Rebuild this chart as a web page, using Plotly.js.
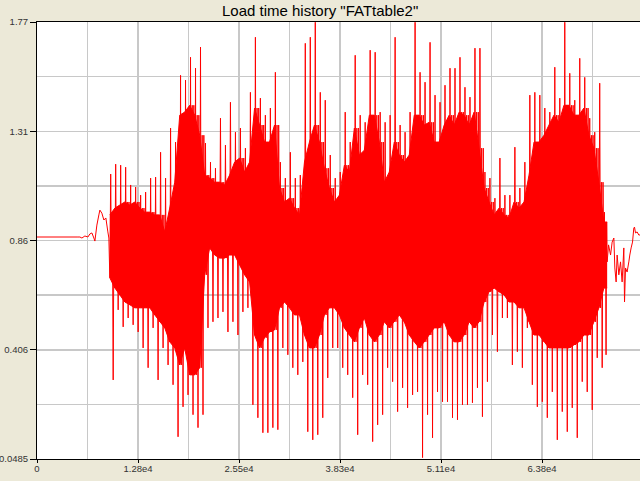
<!DOCTYPE html>
<html><head><meta charset="utf-8">
<script src="https://cdn.plot.ly/plotly-3.0.1.min.js"></script>
<style>html,body{margin:0;padding:0;overflow:hidden;background:#ECE9D8;}#chart{width:648px;height:481px;}</style>
</head><body><div id="chart"></div>
<script>
// Quiet start of the load history (time, load)
const preTime = [0, 5172, 5424, 5677, 6055, 6434, 6686, 6938, 7191, 7317, 7569, 7821, 7947, 8200, 8452, 8704, 8957, 9083];
const preLoad = [0.923, 0.923, 0.923, 0.919, 0.927, 0.923, 0.935, 0.939, 0.919, 0.907, 0.970, 1.010, 1.029, 1.017, 0.990, 0.998, 0.943, 0.919];

// Dense part, read per time bin: extreme spikes and solid core band
const binStart = [9209, 9840, 10471, 11101, 11732, 12363, 12994, 13624, 14255, 14886,
  15517, 16147, 16778, 17409, 18040, 18670, 19301, 19932, 20563, 21193,
  21824, 22455, 23086, 23716, 24347, 24978, 25609, 26239, 26870, 27501,
  28132, 28762, 29393, 30024, 30655, 31285, 31916, 32547, 33178, 33808,
  34439, 35070, 35701, 36331, 36962, 37593, 38224, 38854, 39485, 40116,
  40747, 41377, 42008, 42639, 43270, 43900, 44531, 45162, 45793, 46423,
  47054, 47685, 48316, 48946, 49577, 50208, 50839, 51469, 52100, 52731,
  53362, 53992, 54623, 55254, 55885, 56515, 57146, 57777, 58408, 59038,
  59669, 60300, 60931, 61561, 62192, 62823, 63454, 64084, 64715, 65346,
  65977, 66607, 67238, 67869, 68500, 69130, 69761, 70392, 71023, 71653];
const peakHigh = [1.171, 1.210, 1.206, 1.198, 1.128, 1.120, 1.088, 1.100, 1.155, 1.159,
  1.257, 1.155, 1.352, 1.297, 1.560, 1.541, 1.631, 1.588, 1.671, 1.293,
  1.218, 1.194, 1.391, 1.285, 1.454, 1.336, 1.352, 1.273, 1.493, 1.710,
  1.470, 1.403, 1.431, 1.572, 1.218, 1.155, 1.257, 1.155, 1.167, 1.686,
  1.710, 1.769, 1.493, 1.462, 1.246, 1.155, 1.179, 1.415, 1.297, 1.639,
  1.403, 1.375, 1.659, 1.651, 1.415, 1.375, 1.403, 1.710, 1.364, 1.336,
  1.415, 1.769, 1.572, 1.533, 1.690, 1.482, 1.454, 1.521, 1.588, 1.588,
  1.631, 1.513, 1.474, 1.667, 1.667, 1.179, 1.155, 1.076, 1.234, 1.088,
  1.088, 1.277, 1.116, 1.218, 1.482, 1.493, 1.482, 1.431, 1.415, 1.592,
  1.470, 1.769, 1.568, 1.462, 1.627, 1.552, 1.391, 1.336, 1.529, 1.021];
const coreHigh = [1.010, 1.037, 1.049, 1.061, 1.049, 1.061, 1.037, 1.021, 1.021, 1.010,
  1.010, 0.943, 1.037, 1.139, 1.403, 1.415, 1.442, 1.403, 1.324, 1.167,
  1.155, 1.139, 1.139, 1.128, 1.167, 1.218, 1.234, 1.179, 1.218, 1.431,
  1.364, 1.297, 1.297, 1.364, 1.116, 1.061, 1.076, 1.037, 1.010, 1.218,
  1.297, 1.364, 1.297, 1.194, 1.116, 1.061, 1.088, 1.206, 1.179, 1.352,
  1.246, 1.265, 1.403, 1.403, 1.297, 1.139, 1.179, 1.297, 1.246, 1.218,
  1.246, 1.403, 1.403, 1.364, 1.375, 1.297, 1.297, 1.364, 1.403, 1.364,
  1.415, 1.403, 1.364, 1.415, 1.273, 1.116, 1.061, 1.010, 1.037, 1.010,
  0.998, 1.061, 1.037, 1.061, 1.167, 1.297, 1.297, 1.324, 1.364, 1.403,
  1.375, 1.442, 1.442, 1.403, 1.403, 1.431, 1.324, 1.273, 1.139, 0.982];
const coreLow = [0.762, 0.722, 0.695, 0.667, 0.656, 0.644, 0.644, 0.644, 0.644, 0.616,
  0.589, 0.565, 0.510, 0.486, 0.419, 0.486, 0.380, 0.380, 0.408, 0.774,
  0.880, 0.852, 0.840, 0.840, 0.852, 0.852, 0.813, 0.774, 0.746, 0.537,
  0.486, 0.526, 0.549, 0.557, 0.644, 0.667, 0.644, 0.616, 0.616, 0.537,
  0.486, 0.486, 0.537, 0.616, 0.644, 0.644, 0.616, 0.565, 0.537, 0.510,
  0.565, 0.604, 0.537, 0.510, 0.537, 0.589, 0.565, 0.589, 0.616, 0.589,
  0.537, 0.510, 0.486, 0.510, 0.537, 0.565, 0.565, 0.589, 0.537, 0.510,
  0.510, 0.537, 0.589, 0.565, 0.589, 0.667, 0.707, 0.722, 0.707, 0.695,
  0.667, 0.667, 0.644, 0.644, 0.589, 0.537, 0.537, 0.510, 0.486, 0.486,
  0.486, 0.486, 0.486, 0.498, 0.510, 0.537, 0.537, 0.589, 0.644, 0.722];
const peakLow = [0.360, 0.636, 0.569, 0.604, 0.577, 0.549, 0.486, 0.408, 0.565, 0.360,
  0.486, 0.419, 0.341, 0.136, 0.254, 0.301, 0.223, 0.172, 0.223, 0.565,
  0.589, 0.604, 0.628, 0.549, 0.589, 0.537, 0.628, 0.644, 0.262, 0.211,
  0.152, 0.152, 0.172, 0.164, 0.486, 0.459, 0.408, 0.380, 0.431, 0.156,
  0.124, 0.144, 0.211, 0.368, 0.486, 0.486, 0.408, 0.380, 0.290, 0.144,
  0.380, 0.341, 0.117, 0.183, 0.223, 0.408, 0.353, 0.235, 0.329, 0.250,
  0.301, 0.313, 0.054, 0.223, 0.132, 0.313, 0.274, 0.274, 0.211, 0.203,
  0.262, 0.262, 0.270, 0.329, 0.215, 0.353, 0.537, 0.471, 0.604, 0.604,
  0.419, 0.471, 0.408, 0.565, 0.341, 0.254, 0.274, 0.211, 0.313, 0.124,
  0.235, 0.156, 0.250, 0.132, 0.353, 0.313, 0.242, 0.447, 0.408, 0.459];

// Calm tail
const tailTime = [72070, 72246, 72499, 72700, 72915, 73041, 73205, 73331, 73545, 73760,
  73962, 74176, 74264, 74391, 74593, 74807, 74933, 75097, 75275, 75438,
  75527, 75653, 75854, 76068, 76321];
const tailLoad = [0.825, 0.892, 0.852, 0.903, 0.919, 0.801, 0.746, 0.852, 0.774, 0.825,
  0.746, 0.880, 0.667, 0.801, 0.785, 0.825, 0.852, 0.880, 0.903, 0.958,
  0.962, 0.939, 0.943, 0.931, 0.931];

const xTickVals = [0, 12767, 25533, 38300, 51067, 63833, 76600];
const xTickText = ['0', '1.28e4', '2.55e4', '3.83e4', '5.11e4', '6.38e4', '7.66e4'];
const yTickVals = [0.0485, 0.478875, 0.90925, 1.339625, 1.77];
const yTickText = ['0.0485', '0.406', '0.86', '1.31', '1.77'];

const RED = '#ff0000';
const t = [], load = [];
preTime.forEach((v, i) => { t.push(v); load.push(preLoad[i]); });
for (let i = 0; i < binStart.length; i++) {
  const a = binStart[i];
  const b = i + 1 < binStart.length ? binStart[i + 1] : tailTime[0];
  const seq = [coreLow[i], peakHigh[i], coreLow[i], coreHigh[i], peakLow[i], coreHigh[i]];
  seq.forEach((v, j) => { t.push(a + (b - a) * j / seq.length); load.push(v); });
}
tailTime.forEach((v, i) => { t.push(v); load.push(tailLoad[i]); });

// solid core band between coreHigh and coreLow
const bandT = binStart.concat([tailTime[0]]);
const bandHi = coreHigh.concat([coreHigh[coreHigh.length - 1]]);
const bandLo = coreLow.concat([coreLow[coreLow.length - 1]]);

const font = 'Liberation Sans, Arial, sans-serif';
Plotly.newPlot('chart', [
  {type: 'scatter', mode: 'lines', x: bandT, y: bandHi, line: {color: RED, width: 1}, hoverinfo: 'skip'},
  {type: 'scatter', mode: 'lines', x: bandT, y: bandLo, line: {color: RED, width: 1}, fill: 'tonexty', fillcolor: RED, hoverinfo: 'skip'},
  {type: 'scatter', mode: 'lines', x: t, y: load, line: {color: RED, width: 1, simplify: false}, hoverinfo: 'skip'}
], {
  width: 648, height: 481,
  margin: {l: 37, r: 5, t: 22, b: 22, pad: 0},
  paper_bgcolor: '#ECE9D8', plot_bgcolor: '#ffffff',
  showlegend: false,
  title: {text: 'Load time history "FATtable2"', font: {family: font, size: 15, color: '#000'},
    xref: 'container', x: 0.494, xanchor: 'center', yref: 'container', y: 0.977, yanchor: 'middle'},
  xaxis: {
    range: [0, 76600], tickmode: 'array', tickvals: xTickVals, ticktext: xTickText,
    showline: true, linecolor: '#000', linewidth: 1, mirror: true,
    ticks: 'outside', ticklen: 3, tickcolor: '#000', ticklabelstandoff: -2,
    showgrid: true, gridcolor: '#c8c8c8', gridwidth: 1.5, zeroline: false,
    tickfont: {family: font, size: 9.5, color: '#333'},
    minor: {tickmode: 'linear', tick0: 0, dtick: 76600 / 12, showgrid: true, gridcolor: '#c8c8c8', gridwidth: 1.5, ticklen: 0}
  },
  yaxis: {
    range: [0.0485, 1.77], tickmode: 'array', tickvals: yTickVals, ticktext: yTickText,
    showline: true, linecolor: '#000', linewidth: 1, mirror: true,
    ticks: 'outside', ticklen: 6, tickcolor: '#000',
    showgrid: true, gridcolor: '#c8c8c8', gridwidth: 1.5, zeroline: false,
    tickfont: {family: font, size: 9.5, color: '#333'},
    minor: {tickmode: 'linear', tick0: 0.0485, dtick: 1.7215 / 8, showgrid: true, gridcolor: '#c8c8c8', gridwidth: 1.5, ticklen: 0}
  }
}, {staticPlot: true, displayModeBar: false});
</script>
</body></html>
